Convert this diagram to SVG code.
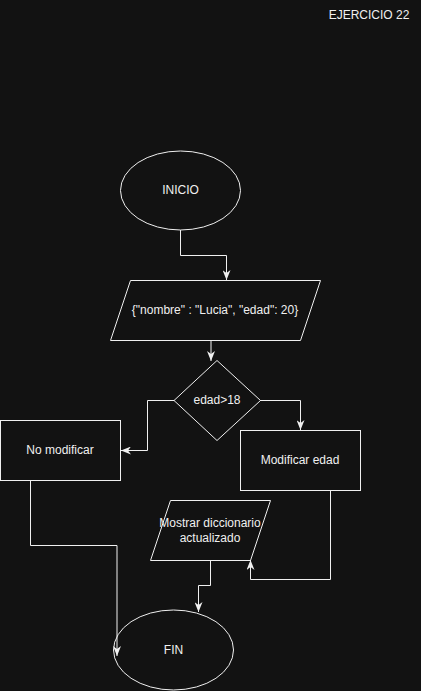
<svg xmlns="http://www.w3.org/2000/svg" width="421" height="691" viewBox="0 0 421 691">
<style>
.shape{fill:#121212;stroke:#f0f0f0;stroke-width:1}
.edge{fill:none;stroke:#f0f0f0;stroke-width:1}
.lbl{font-family:"Liberation Sans",Arial,Helvetica,sans-serif;font-size:12px;fill:#f0f0f0;text-anchor:middle;dominant-baseline:central}
</style>
<defs>
<marker id="arr" viewBox="0 0 10 8" refX="10" refY="4" markerWidth="10" markerHeight="8" markerUnits="userSpaceOnUse" orient="auto">
<path d="M0,0 L10,4 L0,8 L3,4 Z" fill="#f0f0f0" stroke="none"/>
</marker>
</defs>
<rect x="0" y="0" width="421" height="691" fill="#121212"/>
<g id="title"><text class="lbl" x="369" y="15">EJERCICIO 22</text></g>
<g id="inicio">
<ellipse class="shape" cx="180.5" cy="190.5" rx="60" ry="39.5"/>
<text class="lbl" x="180.5" y="190">INICIO</text>
</g>
<g id="datos">
<polygon class="shape" points="130.5,280.5 320.5,280.5 300.5,340.5 110.5,340.5"/>
<text class="lbl" x="215" y="310">{"nombre" : "Lucia", "edad": 20}</text>
</g>
<g id="decision">
<polygon class="shape" points="217,360.5 260.5,400.5 217,440.5 174,400.5"/>
<text class="lbl" x="217" y="400">edad&gt;18</text>
</g>
<g id="no-modificar">
<rect class="shape" x="0.5" y="420.5" width="120" height="60"/>
<text class="lbl" x="60" y="450">No modificar</text>
</g>
<g id="modificar-edad">
<rect class="shape" x="240.5" y="430.5" width="120" height="60"/>
<text class="lbl" x="300" y="460">Modificar edad</text>
</g>
<g id="mostrar">
<polygon class="shape" points="170.5,500.5 270.5,500.5 250.5,560.5 150.5,560.5"/>
<text class="lbl" x="210" y="523">Mostrar diccionario</text>
<text class="lbl" x="210" y="538">actualizado</text>
</g>
<g id="fin">
<ellipse class="shape" cx="173.5" cy="650" rx="60" ry="40"/>
<text class="lbl" x="173.5" y="650">FIN</text>
</g>
<g id="connectors">
<path class="edge" d="M180.5,230 V255.5 H226.5 V280" marker-end="url(#arr)"/>
<path class="edge" d="M211,340 V361" marker-end="url(#arr)"/>
<path class="edge" d="M174,400.5 H147.5 V450.5 H121" marker-end="url(#arr)"/>
<path class="edge" d="M260,400.5 H300.5 V430" marker-end="url(#arr)"/>
<path class="edge" d="M330.5,490 V579.5 H250.5 V560" marker-end="url(#arr)"/>
<path class="edge" d="M210.5,560 V585.5 H198.5 V612" marker-end="url(#arr)"/>
<path class="edge" d="M30.5,480 V545.5 H117 V656" marker-end="url(#arr)"/>
</g>
</svg>
